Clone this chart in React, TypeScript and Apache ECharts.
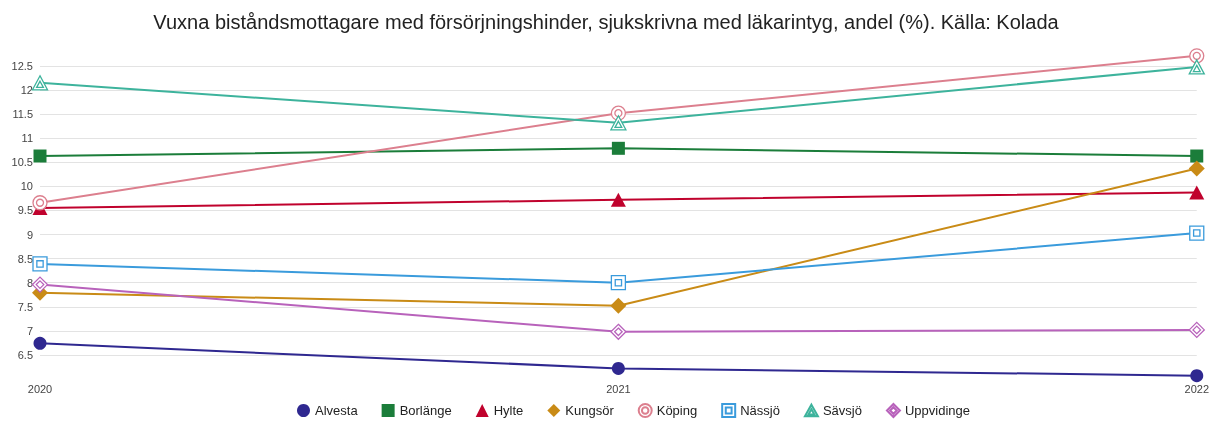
import React, { useEffect, useRef } from "react";
import * as echarts from "echarts";

const years = ["2020", "2021", "2022"];
const names = ["Alvesta", "Borlänge", "Hylte", "Kungsör", "Köping", "Nässjö", "Sävsjö", "Uppvidinge"];
const alvesta = [6.74, 6.22, 6.07];
const borlange = [10.63, 10.79, 10.63];
const hylte = [9.55, 9.72, 9.87];
const kungsor = [7.79, 7.52, 10.37];
const koping = [9.66, 11.52, 12.71];
const nassjo = [8.39, 8.0, 9.03];
const savsjo = [12.15, 11.32, 12.48];
const uppvidinge = [7.96, 6.98, 7.02];
const yTicksMin = 6;
const yTicksMax = 12.8;
const yInterval = 0.5;

const colors = ["#2f2890", "#1b7d3a", "#c0022d", "#c98b16", "#dc7f8e", "#3a9bdc", "#3db39c", "#b862bb"];

const ringPath = "path://M10,0A10,10,0,1,1,10,20A10,10,0,1,1,10,0ZM10,5A5,5,0,1,1,10,15A5,5,0,1,1,10,5Z";
const sqPath = "path://M0,0L20,0L20,20L0,20ZM5.5,5.5L14.5,5.5L14.5,14.5L5.5,14.5Z";
const triPath = "path://M10,0L20,18L0,18ZM10,7L14.5,15L5.5,15Z";
const diaPath = "path://M10,0L20,10L10,20L0,10ZM10,5L15,10L10,15L5,10Z";

export default function App() {
  const ref = useRef<HTMLDivElement>(null);
  useEffect(() => {
    if (!ref.current) return;
    const chart = echarts.init(ref.current, null, { renderer: "svg" });
    const datas = [alvesta, borlange, hylte, kungsor, koping, nassjo, savsjo, uppvidinge];
    const symbols = ["circle", "rect", "triangle", "diamond", ringPath, sqPath, triPath, diaPath];
    const sizes: any[] = [13, 13, [15, 14], 16, 14, 14, [15, 14], 15];
    const series = names.map((n, i) => {
      const outline = i >= 4;
      return {
        name: n,
        type: "line",
        data: datas[i],
        symbol: symbols[i],
        symbolSize: sizes[i],
        showAllSymbol: true,
        lineStyle: { color: colors[i], width: 2 },
        itemStyle: outline
          ? { color: "#ffffff", borderColor: colors[i], borderWidth: 1.3 }
          : { color: colors[i] },
        emphasis: { disabled: true },
      };
    });
    chart.setOption({
      animation: false,
      title: {
        text: "Vuxna biståndsmottagare med försörjningshinder, sjukskrivna med läkarintyg, andel (%). Källa: Kolada",
        left: "center",
        top: 7,
        textStyle: { fontFamily: "Liberation Sans, Arial, sans-serif", fontSize: 20, fontWeight: "normal", color: "#222" },
      },
      legend: {
        top: 398,
        left: 292,
        itemWidth: 13,
        itemHeight: 13,
        itemGap: 24,
        textStyle: { fontFamily: "Liberation Sans, Arial, sans-serif", fontSize: 13, color: "#222" },
        data: names.map((n, i) => ({ name: n, icon: symbols[i] })),
      },
      grid: { left: 40, right: 12, top: 51.5, bottom: 42 },
      xAxis: {
        type: "category",
        data: years,
        boundaryGap: false,
        axisLine: { show: false },
        axisTick: { show: false },
        axisLabel: { color: "#444", fontFamily: "Liberation Sans, Arial, sans-serif", fontSize: 11, margin: 4 },
      },
      yAxis: {
        type: "value",
        min: yTicksMin,
        max: yTicksMax,
        interval: yInterval,
        axisLine: { show: false },
        axisTick: { show: false },
        axisLabel: {
          color: "#444",
          fontFamily: "Liberation Sans, Arial, sans-serif",
          fontSize: 11,
          margin: 7,
          showMinLabel: false,
          showMaxLabel: false,
        },
        splitLine: { show: true, showMinLine: false, showMaxLine: false, lineStyle: { color: "#e3e3e3", width: 1 } },
      },
      series,
    });
    return () => chart.dispose();
  }, []);
  return <div ref={ref} style={{ position: "fixed", left: 0, top: 0, width: 1212, height: 421 }} />;
}
